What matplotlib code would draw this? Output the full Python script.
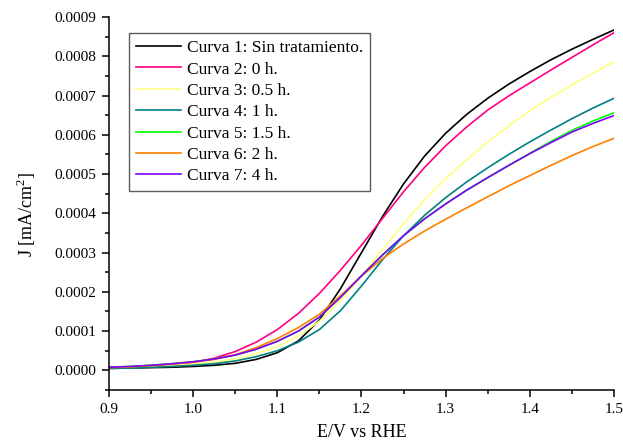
import matplotlib
matplotlib.use("Agg")
import matplotlib.pyplot as plt
from matplotlib.ticker import MultipleLocator, FormatStrFormatter

plt.rcParams['font.family'] = ['Liberation Serif', 'DejaVu Serif']
plt.rcParams['mathtext.fontset'] = 'custom'
plt.rcParams['mathtext.rm'] = 'Liberation Serif'

# potential (V vs RHE)
E = [0.900, 0.925, 0.950, 0.975, 1.000, 1.025, 1.050, 1.075, 1.100, 1.125,
     1.150, 1.175, 1.200, 1.225, 1.250, 1.275, 1.300, 1.325, 1.350, 1.375,
     1.400, 1.425, 1.450, 1.475, 1.500]

# current density (mA/cm2) for each treatment time
j_sin = [0.000005, 0.000006, 0.000007, 0.000008, 0.000010, 0.000013, 0.000018, 0.000028, 0.000045, 0.000075,
         0.000128, 0.000208, 0.000300, 0.000392, 0.000475, 0.000546, 0.000604, 0.000652, 0.000693, 0.000729,
         0.000761, 0.000791, 0.000818, 0.000843, 0.000867]
j_0h = [0.000006, 0.000008, 0.000011, 0.000015, 0.000020, 0.000031, 0.000048, 0.000072, 0.000104, 0.000145,
        0.000196, 0.000255, 0.000319, 0.000387, 0.000455, 0.000517, 0.000572, 0.000620, 0.000663, 0.000699,
        0.000732, 0.000765, 0.000797, 0.000829, 0.000860]
j_05h = [0.000006, 0.000007, 0.000009, 0.000012, 0.000016, 0.000021, 0.000029, 0.000042, 0.000061, 0.000088,
         0.000125, 0.000178, 0.000240, 0.000308, 0.000374, 0.000434, 0.000488, 0.000537, 0.000582, 0.000623,
         0.000661, 0.000695, 0.000727, 0.000757, 0.000786]
j_1h = [0.000005, 0.000006, 0.000008, 0.000010, 0.000013, 0.000017, 0.000024, 0.000035, 0.000050, 0.000072,
        0.000104, 0.000152, 0.000215, 0.000282, 0.000343, 0.000395, 0.000440, 0.000480, 0.000516, 0.000550,
        0.000582, 0.000612, 0.000641, 0.000668, 0.000693]
j_15h = [0.000008, 0.000010, 0.000013, 0.000017, 0.000022, 0.000029, 0.000039, 0.000054, 0.000074, 0.000100,
         0.000136, 0.000186, 0.000241, 0.000294, 0.000343, 0.000386, 0.000424, 0.000459, 0.000491, 0.000522,
         0.000553, 0.000583, 0.000611, 0.000635, 0.000656]
j_2h = [0.000007, 0.000009, 0.000012, 0.000016, 0.000021, 0.000028, 0.000040, 0.000058, 0.000081, 0.000109,
        0.000143, 0.000190, 0.000240, 0.000285, 0.000322, 0.000355, 0.000385, 0.000414, 0.000442, 0.000470,
        0.000496, 0.000522, 0.000547, 0.000570, 0.000591]
j_4h = [0.000008, 0.000010, 0.000013, 0.000017, 0.000022, 0.000029, 0.000039, 0.000054, 0.000074, 0.000100,
        0.000136, 0.000186, 0.000241, 0.000294, 0.000343, 0.000386, 0.000424, 0.000459, 0.000491, 0.000522,
        0.000552, 0.000580, 0.000607, 0.000629, 0.000649]

labels = ['Curva 1: Sin tratamiento.', 'Curva 2: 0 h.', 'Curva 3: 0.5 h.', 'Curva 4: 1 h.',
          'Curva 5: 1.5 h.', 'Curva 6: 2 h.', 'Curva 7: 4 h.']
colors = ['#000000', '#ff0080', '#ffff80', '#008080', '#00ff00', '#ff8000', '#8000ff']
series = [j_sin, j_0h, j_05h, j_1h, j_15h, j_2h, j_4h]

fig = plt.figure(figsize=(6.23, 4.44), dpi=100)
ax = fig.add_axes([0.175, 0.1216, 0.8105, 0.8401])

for j, c, lab in zip(series, colors, labels):
    ax.plot(E, j, color=c, lw=1.2, label=lab)

ax.set_xlim(0.9, 1.5)
ax.set_ylim(-0.00005, 0.0009)
ax.xaxis.set_major_locator(MultipleLocator(0.1))
ax.xaxis.set_minor_locator(MultipleLocator(0.05))
ax.yaxis.set_major_locator(MultipleLocator(0.0001))
ax.yaxis.set_minor_locator(MultipleLocator(0.00005))
ax.xaxis.set_major_formatter(FormatStrFormatter('%.1f'))
ax.yaxis.set_major_formatter(FormatStrFormatter('%.4f'))

for s in ['top', 'right']:
    ax.spines[s].set_visible(False)
for s in ['left', 'bottom']:
    ax.spines[s].set_linewidth(1.1)
ax.tick_params(which='major', direction='out', length=5, width=1.1, labelsize=11, pad=4)
ax.tick_params(which='minor', direction='out', length=3, width=1.1)

ax.set_xlabel('E/V vs RHE', fontsize=13)
ax.set_ylabel('J [mA/cm$^2$]', fontsize=13)
ax.xaxis.set_label_coords(0.5, -0.092)
ax.yaxis.set_label_coords(-0.14, 0.47)

leg = ax.legend(loc='upper left', bbox_to_anchor=(0.04, 0.957), borderaxespad=0,
                fontsize=12.5, frameon=True, fancybox=False, handlelength=2.6,
                handletextpad=0.35, labelspacing=0.3, borderpad=0.4)
leg.get_frame().set_edgecolor('#333333')
leg.get_frame().set_linewidth(1.0)

fig.savefig('out.png', dpi=100)
